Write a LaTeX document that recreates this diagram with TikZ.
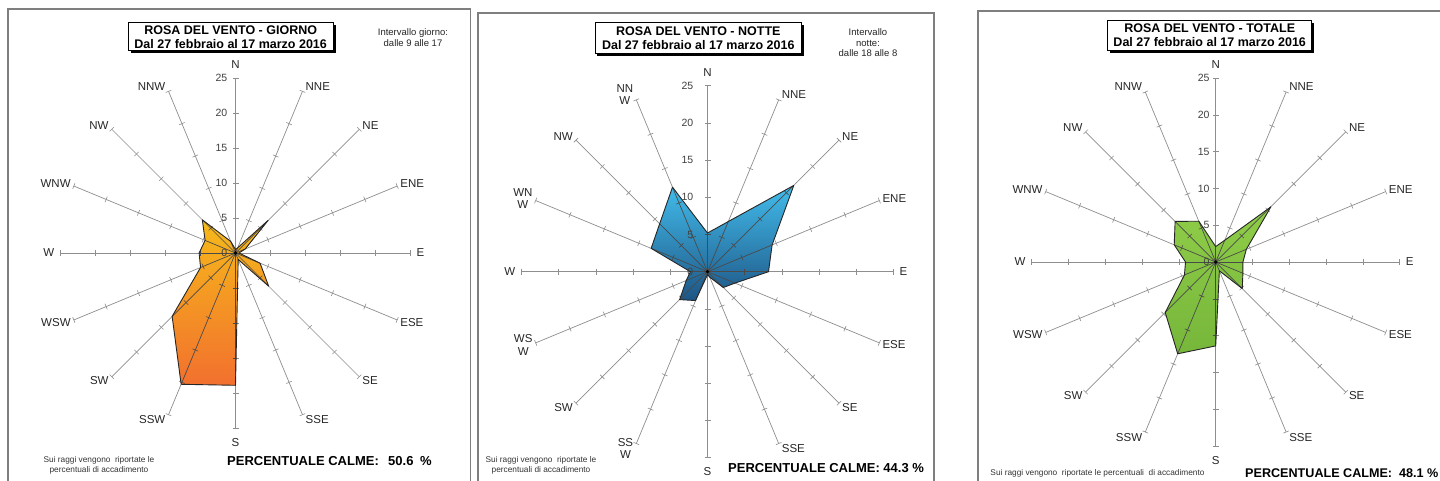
\documentclass[tikz,border=0pt]{standalone}
\usepackage{fontspec}
\setmainfont{Liberation Sans}
\usetikzlibrary{calc,shadows}
\definecolor{gridc}{HTML}{8E8E8E}
\definecolor{gridd}{HTML}{4A4A4A}
\definecolor{frame}{HTML}{7F7F7F}
\definecolor{oTop}{HTML}{F6BA1A}
\definecolor{oBot}{HTML}{F2702E}
\definecolor{bTop}{HTML}{42BCEB}
\definecolor{bBot}{HTML}{1D5585}
\definecolor{gTop}{HTML}{8FCD48}
\definecolor{gBot}{HTML}{76B63A}
\tikzset{
  lbl/.style={font=\fontsize{11.5}{12.5}\selectfont, text=black!85, inner sep=0pt, align=center},
  num/.style={font=\fontsize{10.5}{12}\selectfont, text=black!75, inner sep=0pt},
  small/.style={font=\fontsize{8.3}{10}\selectfont, text=black!80, inner sep=0pt, align=center},
  interv/.style={font=\fontsize{9.5}{11}\selectfont, text=black!85, inner sep=0pt, align=center},
  calme/.style={font=\bfseries\fontsize{13}{15}\selectfont, inner sep=0pt, anchor=west},
  titlebox/.style={draw=black, line width=.8pt, fill=white, align=center, inner sep=0pt,
    font=\bfseries\fontsize{12.5}{14}\selectfont,
    drop shadow={shadow xshift=2.5pt, shadow yshift=-2.5pt, opacity=1, fill=black}},
  panel/.style={draw=frame, line width=1.1pt},
  outl/.style={draw=black!85, line width=.9pt, line join=round},
}
% grid: #1 = px per unit, #2 = colour
\newcommand{\rosegrid}[2]{%
  \foreach \i in {0,...,15}{%
    \pgfmathsetmacro{\bb}{\i*22.5}
    \draw[#2, line width=.7pt] (0,0) -- ({\bb-90}:{25*#1});
    \foreach \k in {5,10,15,20,25}{%
      \draw[#2, line width=.6pt] ({\bb-90}:{\k*#1}) ++({\bb}:3) -- ++({\bb+180}:6);
    }
  }%
}
% #1 cx, #2 cy, #3 px/unit, #4 prefix, #5 values, #6 shade opts, #7 number offset, #8 labels
\newcommand{\rose}[8]{%
\begin{scope}[shift={(#1,#2)}]
  \rosegrid{#3}{gridc}
  \foreach \v [count=\i from 0] in {#5}{\coordinate (#4\i) at ({\i*22.5-90}:{\v*#3});}
  \shade[#6] (#40) -- (#41) -- (#42) -- (#43) -- (#44) -- (#45) -- (#46) -- (#47) -- (#48) -- (#49) -- (#410) -- (#411) -- (#412) -- (#413) -- (#414) -- (#415) -- cycle;
  \begin{scope}
    \clip (#40) -- (#41) -- (#42) -- (#43) -- (#44) -- (#45) -- (#46) -- (#47) -- (#48) -- (#49) -- (#410) -- (#411) -- (#412) -- (#413) -- (#414) -- (#415) -- cycle;
    \rosegrid{#3}{gridd}
  \end{scope}
  \path[outl] (#40) -- (#41) -- (#42) -- (#43) -- (#44) -- (#45) -- (#46) -- (#47) -- (#48) -- (#49) -- (#410) -- (#411) -- (#412) -- (#413) -- (#414) -- (#415) -- cycle;
  \fill[black] (0,0) circle (1.8);
  \foreach \k in {0,5,10,15,20,25}{\node[num, anchor=east] at (-#7,{-\k*#3}) {\k};}
  \foreach \i/\t in {#8}{%
    \pgfmathsetmacro{\bb}{\i*22.5}
    \ifnum\i=4 \def\xs{6}\else\ifnum\i=12 \def\xs{6}\else\def\xs{3}\fi\fi
    \ifnum\i=0
      \node[lbl, anchor=south] at (0,{-25*#3-9.5}) {\t};
    \else\ifnum\i=8
      \node[lbl, anchor=north] at (0,{25*#3+10}) {\t};
    \else\ifnum\i<8
      \node[lbl, anchor=west, xshift=\xs pt, yshift={5.5*cos(\bb)}] at ({\bb-90}:{25*#3}) {\t};
    \else
      \node[lbl, anchor=east, xshift=-\xs pt, yshift={5.5*cos(\bb)}] at ({\bb-90}:{25*#3}) {\t};
    \fi\fi\fi
  }
\end{scope}}

\begin{document}
\begin{tikzpicture}[x=1pt,y=-1pt]
\useasboundingbox (0,0) rectangle (1440,480);
\clip (0,0) rectangle (1440,480);
\fill[white] (0,0) rectangle (1440,480);

% ---------------- panel frames
\draw[panel] (8,490) -- (8,9) -- (470.7,9) -- (470.7,490);
\draw[panel] (478,490) -- (478,13) -- (934,13) -- (934,490);
\draw[panel] (978,490) -- (978,11) -- (1450,11);

% ---------------- panel 1: GIORNO
\rose{235.5}{253}{7.0}{a}
  {0.5,0.8,6.6,1.5,0.5,3.8,6.7,1.0,18.9,20.3,12.8,5.4,5.2,4.7,6.7,1.8}
  {top color=oTop, bottom color=oBot}{8}
  {0/N,1/NNE,2/NE,3/ENE,4/E,5/ESE,6/SE,7/SSE,8/S,9/SSW,10/SW,11/WSW,12/W,13/WNW,14/NW,15/NNW}
\node[titlebox, minimum width=204.7pt, minimum height=28pt] (t1) at (230.7,36.7)
  {ROSA DEL VENTO - GIORNO\\Dal 27 febbraio al 17 marzo 2016};
\node[interv] (i1) at (413,37.5) {Intervallo giorno:\\dalle 9 alle 17};
\node[small] (s1) at (99,465) {Sui raggi vengono\ \ riportate le\\percentuali di accadimento};
\node[calme] (c1) at (227,461) {PERCENTUALE CALME:};
\node[calme] (v1) at (388,461) {50.6};
\node[calme] (p1) at (420,461) {\%};

% ---------------- panel 2: NOTTE
\rose{707.5}{271.7}{7.44}{b}
  {5.2,7.3,16.4,9.4,8.2,4.0,3.0,0.8,0.4,4.2,5.3,3.1,2.3,8.2,9.1,12.3}
  {top color=bTop, bottom color=bBot}{14}
  {0/N,1/NNE,2/NE,3/ENE,4/E,5/ESE,6/SE,7/SSE,8/S,9/{SS\\W},10/SW,11/{WS\\W},12/W,13/{WN\\W},14/NW,15/{NN\\W}}
\node[titlebox, minimum width=206.7pt, minimum height=30.6pt] (t2) at (698.3,38)
  {ROSA DEL VENTO - NOTTE\\Dal 27 febbraio al 17 marzo 2016};
\node[interv, font=\fontsize{9.5}{10.5}\selectfont] (i2) at (868,42.7) {Intervallo\\notte:\\dalle 18 alle 8};
\node[small] (s2) at (541,465.5) {Sui raggi vengono\ \ riportate le\\percentuali di accadimento};
\node[calme] (c2) at (728,468) {PERCENTUALE CALME: 44.3 \%};

% ---------------- panel 3: TOTALE
\rose{1215.7}{262}{7.36}{c}
  {2.1,3.2,10.6,4.5,3.7,4.0,5.1,1.3,11.4,13.5,9.7,4.6,4.1,6.1,7.8,6.0}
  {top color=gTop, bottom color=gBot}{6}
  {0/N,1/NNE,2/NE,3/ENE,4/E,5/ESE,6/SE,7/SSE,8/S,9/SSW,10/SW,11/WSW,12/W,13/WNW,14/NW,15/NNW}
\node[titlebox, minimum width=204pt, minimum height=30pt] (t3) at (1209.7,35)
  {ROSA DEL VENTO - TOTALE\\Dal 27 febbraio al 17 marzo 2016};
\node[small] (s3) at (1097.5,473) {Sui raggi vengono\ \ riportate le percentuali\ \ di accadimento};
\node[calme, font=\bfseries\fontsize{12.6}{15}\selectfont] (c3) at (1245,473) {PERCENTUALE CALME:};
\node[calme, font=\bfseries\fontsize{12.6}{15}\selectfont] (v3) at (1399,473) {48.1};
\node[calme, font=\bfseries\fontsize{12.6}{15}\selectfont] (p3) at (1427,473) {\%};
\end{tikzpicture}
\end{document}
